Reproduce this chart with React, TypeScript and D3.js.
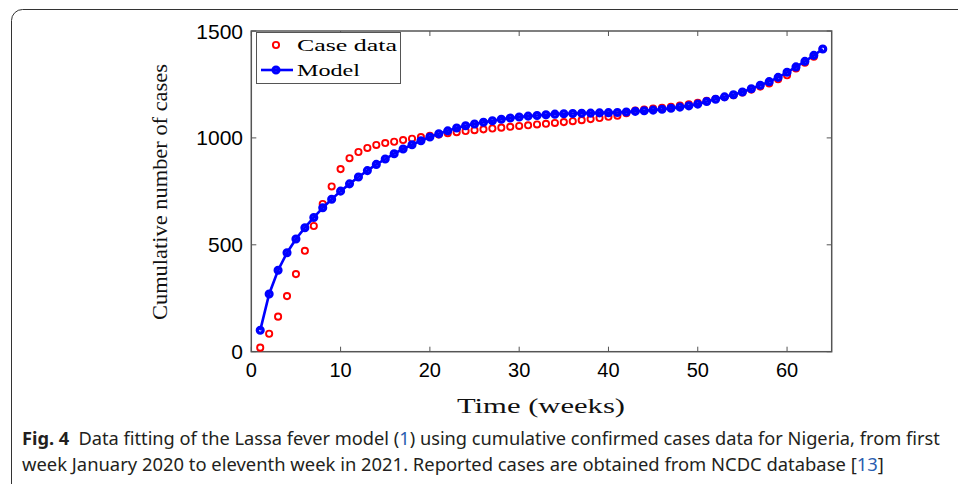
import React, { useLayoutEffect, useRef, useState } from "react";
import * as d3 from "d3";

// Weekly cumulative confirmed Lassa fever cases (Nigeria) and fitted model output
const weeks: number[] = Array.from({ length: 64 }, (_, i) => i + 1);

const caseData: number[] = [
  19, 84, 164, 260, 363, 472, 588, 691, 773, 854,
  905, 934, 953, 967, 976, 982, 990, 996, 1004, 1010,
  1016, 1022, 1027, 1032, 1036, 1040, 1044, 1048, 1052, 1056,
  1059, 1063, 1066, 1070, 1074, 1078, 1083, 1088, 1093, 1099,
  1104, 1115, 1128, 1133, 1137, 1141, 1146, 1151, 1157, 1164,
  1173, 1182, 1191, 1200, 1212, 1226, 1240, 1255, 1274, 1293,
  1325, 1352, 1380, 1416,
];

const modelData: number[] = [
  100, 270, 381, 463, 527, 580, 628, 673, 713, 751,
  785, 817, 847, 876, 901, 926, 948, 968, 987, 1004,
  1019, 1033, 1046, 1057, 1065, 1073, 1080, 1087, 1093, 1098,
  1102, 1105, 1108, 1111, 1113, 1114, 1115, 1116, 1117, 1118,
  1119, 1121, 1124, 1127, 1130, 1134, 1139, 1144, 1150, 1158,
  1170, 1181, 1192, 1202, 1215, 1230, 1246, 1263, 1283, 1307,
  1332, 1358, 1386, 1416,
];

const xTicks: number[] = [0, 10, 20, 30, 40, 50, 60];
const yTicks: number[] = [0, 500, 1000, 1500];

const W = 958;
const H = 484;
const left = 251.3;
const right = 831.7;
const top = 31;
const bottom = 351.7;

const axisColor = "#555";
const red = "#ff0000";
const blue = "#0000ff";
const linkBlue = "#2a5db0";

// Caption line squeezed horizontally to a given width (condensed look)
function FitLine({
  x,
  y,
  width,
  children,
}: {
  x: number;
  y: number;
  width: number;
  children: React.ReactNode;
}) {
  const ref = useRef<SVGTextElement>(null);
  const [sx, setSx] = useState(0.85);
  useLayoutEffect(() => {
    if (ref.current) {
      const w = ref.current.getComputedTextLength();
      if (w > 0) setSx(width / w);
    }
  }, [width]);
  return (
    <g transform={`translate(${x},${y}) scale(${sx},1)`}>
      <text
        ref={ref}
        x={0}
        y={0}
        fontFamily="Noto Sans, Open Sans, sans-serif"
        fontSize={18.5}
        fill="#231f20"
      >
        {children}
      </text>
    </g>
  );
}

export default function App() {
  const x = d3.scaleLinear().domain([0, 65]).range([left, right]);
  const y = d3.scaleLinear().domain([0, 1500]).range([bottom, top]);

  const modelLine = d3
    .line<number>()
    .x((_, i) => x(weeks[i]))
    .y((d) => y(d));

  const tickLen = 5;

  return (
    <svg
      width={W}
      height={H}
      viewBox={`0 0 ${W} ${H}`}
      style={{ position: "absolute", left: 0, top: 0, background: "#fff" }}
    >
      <rect x={0} y={0} width={W} height={H} fill="#fff" />
      {/* figure frame */}
      <rect
        x={11.5}
        y={9.5}
        width={W + 20}
        height={H + 20}
        rx={11}
        ry={11}
        fill="none"
        stroke="#333"
        strokeWidth={1}
      />

      {/* axes box */}
      <rect
        x={left}
        y={top}
        width={right - left}
        height={bottom - top}
        fill="#fff"
        stroke={axisColor}
        strokeWidth={1.5}
      />

      {/* x ticks (bottom and top) */}
      {xTicks.map((t) => (
        <g key={`xt${t}`}>
          <line x1={x(t)} x2={x(t)} y1={bottom} y2={bottom - tickLen} stroke={axisColor} strokeWidth={1} />
          <line x1={x(t)} x2={x(t)} y1={top} y2={top + tickLen} stroke={axisColor} strokeWidth={1} />
          <text
            x={x(t)}
            y={377}
            textAnchor="middle"
            fontFamily="Liberation Sans, Arial, sans-serif"
            fontSize={20}
            fill="#000"
          >
            {t}
          </text>
        </g>
      ))}

      {/* y ticks (left and right) */}
      {yTicks.map((t) => (
        <g key={`yt${t}`}>
          <line x1={left} x2={left + tickLen} y1={y(t)} y2={y(t)} stroke={axisColor} strokeWidth={1} />
          <line x1={right} x2={right - tickLen} y1={y(t)} y2={y(t)} stroke={axisColor} strokeWidth={1} />
          <text
            x={243}
            y={y(t) + 7.5}
            textAnchor="end"
            fontFamily="Liberation Sans, Arial, sans-serif"
            fontSize={21}
            fill="#000"
          >
            {t}
          </text>
        </g>
      ))}

      {/* case data: open red circles */}
      {caseData.map((v, i) => (
        <circle
          key={`c${i}`}
          cx={x(weeks[i])}
          cy={y(v)}
          r={3.1}
          fill="none"
          stroke={red}
          strokeWidth={1.9}
        />
      ))}

      {/* model: blue line with heavy circle markers */}
      <path d={modelLine(modelData) ?? ""} fill="none" stroke={blue} strokeWidth={2.6} />
      {modelData.map((v, i) => (
        <circle
          key={`m${i}`}
          cx={x(weeks[i])}
          cy={y(v)}
          r={2.9}
          fill="none"
          stroke={blue}
          strokeWidth={3.3}
        />
      ))}

      {/* legend */}
      <rect x={256.5} y={32.5} width={144} height={51} fill="#fff" stroke={axisColor} strokeWidth={1} />
      <circle cx={276} cy={45} r={3.1} fill="none" stroke={red} strokeWidth={1.9} />
      <text
        x={297}
        y={51}
        fontFamily="Liberation Serif, Times New Roman, serif"
        fontSize={17}
        textLength={100}
        lengthAdjust="spacingAndGlyphs"
        fill="#000"
      >
        Case data
      </text>
      <line x1={261} x2={293} y1={70} y2={70} stroke={blue} strokeWidth={2.6} />
      <circle cx={276} cy={70} r={2.9} fill="none" stroke={blue} strokeWidth={3.3} />
      <text
        x={297}
        y={76}
        fontFamily="Liberation Serif, Times New Roman, serif"
        fontSize={17}
        textLength={63}
        lengthAdjust="spacingAndGlyphs"
        fill="#000"
      >
        Model
      </text>

      {/* axis titles */}
      <text
        x={541}
        y={413}
        textAnchor="middle"
        fontFamily="Liberation Serif, Times New Roman, serif"
        fontSize={20}
        textLength={168}
        lengthAdjust="spacingAndGlyphs"
        fill="#111"
      >
        Time (weeks)
      </text>
      <text
        transform={`translate(167,${192}) rotate(-90)`}
        textAnchor="middle"
        fontFamily="Liberation Serif, Times New Roman, serif"
        fontSize={22}
        textLength={256}
        lengthAdjust="spacingAndGlyphs"
        fill="#111"
      >
        Cumulative number of cases
      </text>

      {/* caption */}
      <FitLine x={22} y={445} width={918}>
        <tspan fontWeight="bold">Fig. 4</tspan>
        <tspan>{"\u2002Data fitting of the Lassa fever model ("}</tspan>
        <tspan fill={linkBlue}>1</tspan>
        <tspan>) using cumulative confirmed cases data for Nigeria, from first</tspan>
      </FitLine>
      <FitLine x={22} y={471} width={862}>
        <tspan>week January 2020 to eleventh week in 2021. Reported cases are obtained from NCDC database [</tspan>
        <tspan fill={linkBlue}>13</tspan>
        <tspan>]</tspan>
      </FitLine>
    </svg>
  );
}
